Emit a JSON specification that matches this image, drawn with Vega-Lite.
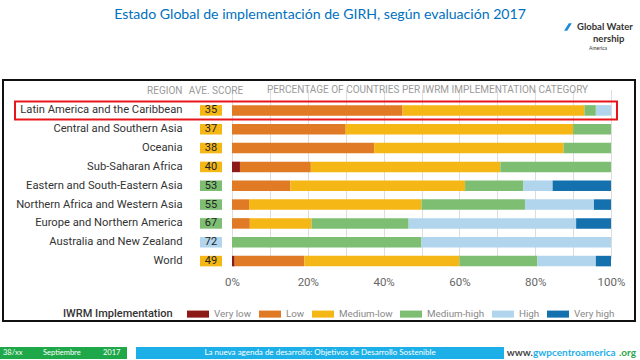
{
  "$schema": "https://vega.github.io/schema/vega-lite/v6.json",
  "width": 640,
  "height": 360,
  "autosize": {"type": "none"},
  "padding": 0,
  "background": "white",
  "config": {"view": {"stroke": null}, "font": "Roboto"},
  "datasets": {
    "shares": [
      {"region": "Latin America and the Caribbean", "level": "Low", "rank": 2, "pct": 45},
      {"region": "Latin America and the Caribbean", "level": "Medium-low", "rank": 3, "pct": 48},
      {"region": "Latin America and the Caribbean", "level": "Medium-high", "rank": 4, "pct": 3},
      {"region": "Latin America and the Caribbean", "level": "High", "rank": 5, "pct": 4},
      {"region": "Central and Southern Asia", "level": "Low", "rank": 2, "pct": 30},
      {"region": "Central and Southern Asia", "level": "Medium-low", "rank": 3, "pct": 60},
      {"region": "Central and Southern Asia", "level": "Medium-high", "rank": 4, "pct": 10},
      {"region": "Oceania", "level": "Low", "rank": 2, "pct": 37.5},
      {"region": "Oceania", "level": "Medium-low", "rank": 3, "pct": 50},
      {"region": "Oceania", "level": "Medium-high", "rank": 4, "pct": 12.5},
      {"region": "Sub-Saharan Africa", "level": "Very low", "rank": 1, "pct": 2.1},
      {"region": "Sub-Saharan Africa", "level": "Low", "rank": 2, "pct": 18.7},
      {"region": "Sub-Saharan Africa", "level": "Medium-low", "rank": 3, "pct": 50},
      {"region": "Sub-Saharan Africa", "level": "Medium-high", "rank": 4, "pct": 29.2},
      {"region": "Eastern and South-Eastern Asia", "level": "Low", "rank": 2, "pct": 15.4},
      {"region": "Eastern and South-Eastern Asia", "level": "Medium-low", "rank": 3, "pct": 46.1},
      {"region": "Eastern and South-Eastern Asia", "level": "Medium-high", "rank": 4, "pct": 15.4},
      {"region": "Eastern and South-Eastern Asia", "level": "High", "rank": 5, "pct": 7.7},
      {"region": "Eastern and South-Eastern Asia", "level": "Very high", "rank": 6, "pct": 15.4},
      {"region": "Northern Africa and Western Asia", "level": "Low", "rank": 2, "pct": 4.5},
      {"region": "Northern Africa and Western Asia", "level": "Medium-low", "rank": 3, "pct": 45.5},
      {"region": "Northern Africa and Western Asia", "level": "Medium-high", "rank": 4, "pct": 27.3},
      {"region": "Northern Africa and Western Asia", "level": "High", "rank": 5, "pct": 18.2},
      {"region": "Northern Africa and Western Asia", "level": "Very high", "rank": 6, "pct": 4.5},
      {"region": "Europe and Northern America", "level": "Low", "rank": 2, "pct": 4.7},
      {"region": "Europe and Northern America", "level": "Medium-low", "rank": 3, "pct": 16.3},
      {"region": "Europe and Northern America", "level": "Medium-high", "rank": 4, "pct": 25.6},
      {"region": "Europe and Northern America", "level": "High", "rank": 5, "pct": 44.2},
      {"region": "Europe and Northern America", "level": "Very high", "rank": 6, "pct": 9.2},
      {"region": "Australia and New Zealand", "level": "Medium-high", "rank": 4, "pct": 50},
      {"region": "Australia and New Zealand", "level": "High", "rank": 5, "pct": 50},
      {"region": "World", "level": "Very low", "rank": 1, "pct": 0.7},
      {"region": "World", "level": "Low", "rank": 2, "pct": 18.4},
      {"region": "World", "level": "Medium-low", "rank": 3, "pct": 40.9},
      {"region": "World", "level": "Medium-high", "rank": 4, "pct": 20.6},
      {"region": "World", "level": "High", "rank": 5, "pct": 15.4},
      {"region": "World", "level": "Very high", "rank": 6, "pct": 4.0}
    ],
    "scores": [
      {"region": "Latin America and the Caribbean", "score": 35, "level": "Medium-low"},
      {"region": "Central and Southern Asia", "score": 37, "level": "Medium-low"},
      {"region": "Oceania", "score": 38, "level": "Medium-low"},
      {"region": "Sub-Saharan Africa", "score": 40, "level": "Medium-low"},
      {"region": "Eastern and South-Eastern Asia", "score": 53, "level": "Medium-high"},
      {"region": "Northern Africa and Western Asia", "score": 55, "level": "Medium-high"},
      {"region": "Europe and Northern America", "score": 67, "level": "Medium-high"},
      {"region": "Australia and New Zealand", "score": 72, "level": "High"},
      {"region": "World", "score": 49, "level": "Medium-low"}
    ]
  },
  "resolve": {"scale": {"x": "independent", "y": "independent"}, "axis": {"x": "independent", "y": "independent"}},
  "layer": [
    {
      "data": {"values": [{}]},
      "layer": [
        {
          "mark": {"type": "rect", "filled": false, "stroke": "#111111", "strokeWidth": 2},
          "encoding": {
            "x": {"datum": 3, "type": "quantitative", "scale": {"domain": [0, 640], "range": [0, 640]}, "axis": null},
            "x2": {"datum": 635},
            "y": {"datum": 80, "type": "quantitative", "scale": {"domain": [0, 360], "range": [0, 360]}, "axis": null},
            "y2": {"datum": 321}
          }
        },
        {
          "mark": {"type": "rect", "filled": false, "stroke": "#E8161B", "strokeWidth": 2},
          "encoding": {
            "x": {"datum": 15, "type": "quantitative", "scale": {"domain": [0, 640], "range": [0, 640]}, "axis": null},
            "x2": {"datum": 617},
            "y": {"datum": 101.5, "type": "quantitative", "scale": {"domain": [0, 360], "range": [0, 360]}, "axis": null},
            "y2": {"datum": 119.5}
          }
        },
        {
          "mark": {"type": "text", "text": "Estado Global de implementación de GIRH, según evaluación 2017", "font": "Lato", "fontSize": 14.1, "color": "#0070C0", "align": "center", "baseline": "alphabetic"},
          "encoding": {
            "x": {"datum": 320, "type": "quantitative", "scale": {"domain": [0, 640], "range": [0, 640]}, "axis": null},
            "y": {"datum": 18.5, "type": "quantitative", "scale": {"domain": [0, 360], "range": [0, 360]}, "axis": null}
          }
        },
        {
          "mark": {"type": "text", "text": "IWRM Implementation", "fontSize": 11, "fontWeight": 500, "color": "#333333", "align": "left", "baseline": "middle"},
          "encoding": {
            "x": {"datum": 63, "type": "quantitative", "scale": {"domain": [0, 640], "range": [0, 640]}, "axis": null},
            "y": {"datum": 314, "type": "quantitative", "scale": {"domain": [0, 360], "range": [0, 360]}, "axis": null}
          }
        },
        {
          "mark": {"type": "rect", "fill": "#1FA84A"},
          "encoding": {
            "x": {"datum": 0, "type": "quantitative", "scale": {"domain": [0, 640], "range": [0, 640]}, "axis": null},
            "x2": {"datum": 127},
            "y": {"datum": 347, "type": "quantitative", "scale": {"domain": [0, 360], "range": [0, 360]}, "axis": null},
            "y2": {"datum": 359}
          }
        },
        {
          "mark": {"type": "rect", "fill": "#1DB0E8"},
          "encoding": {
            "x": {"datum": 136, "type": "quantitative", "scale": {"domain": [0, 640], "range": [0, 640]}, "axis": null},
            "x2": {"datum": 504},
            "y": {"datum": 347, "type": "quantitative", "scale": {"domain": [0, 360], "range": [0, 360]}, "axis": null},
            "y2": {"datum": 359}
          }
        },
        {
          "mark": {"type": "text", "text": "38/xx", "font": "Lato", "fontSize": 7.5, "color": "white", "align": "left", "baseline": "middle"},
          "encoding": {
            "x": {"datum": 3, "type": "quantitative", "scale": {"domain": [0, 640], "range": [0, 640]}, "axis": null},
            "y": {"datum": 353, "type": "quantitative", "scale": {"domain": [0, 360], "range": [0, 360]}, "axis": null}
          }
        },
        {
          "mark": {"type": "text", "text": "Septiembre", "font": "Lato", "fontSize": 7.5, "color": "white", "align": "left", "baseline": "middle"},
          "encoding": {
            "x": {"datum": 43, "type": "quantitative", "scale": {"domain": [0, 640], "range": [0, 640]}, "axis": null},
            "y": {"datum": 353, "type": "quantitative", "scale": {"domain": [0, 360], "range": [0, 360]}, "axis": null}
          }
        },
        {
          "mark": {"type": "text", "text": "2017", "font": "Lato", "fontSize": 7.5, "color": "white", "align": "left", "baseline": "middle"},
          "encoding": {
            "x": {"datum": 103, "type": "quantitative", "scale": {"domain": [0, 640], "range": [0, 640]}, "axis": null},
            "y": {"datum": 353, "type": "quantitative", "scale": {"domain": [0, 360], "range": [0, 360]}, "axis": null}
          }
        },
        {
          "mark": {"type": "text", "text": "La nueva agenda de desarrollo: Objetivos de Desarrollo Sostenible", "font": "Lato", "fontSize": 8, "color": "white", "align": "center", "baseline": "middle"},
          "encoding": {
            "x": {"datum": 320, "type": "quantitative", "scale": {"domain": [0, 640], "range": [0, 640]}, "axis": null},
            "y": {"datum": 353, "type": "quantitative", "scale": {"domain": [0, 360], "range": [0, 360]}, "axis": null}
          }
        },
        {
          "mark": {"type": "text", "text": "www.", "font": "Lato", "fontSize": 10, "fontWeight": "bold", "color": "#444444", "align": "right", "baseline": "middle"},
          "encoding": {
            "x": {"datum": 533, "type": "quantitative", "scale": {"domain": [0, 640], "range": [0, 640]}, "axis": null},
            "y": {"datum": 353, "type": "quantitative", "scale": {"domain": [0, 360], "range": [0, 360]}, "axis": null}
          }
        },
        {
          "mark": {"type": "text", "text": "gwpcentroamerica", "font": "Lato", "fontSize": 10, "fontWeight": "bold", "color": "#1DB0E8", "align": "left", "baseline": "middle"},
          "encoding": {
            "x": {"datum": 533, "type": "quantitative", "scale": {"domain": [0, 640], "range": [0, 640]}, "axis": null},
            "y": {"datum": 353, "type": "quantitative", "scale": {"domain": [0, 360], "range": [0, 360]}, "axis": null}
          }
        },
        {
          "mark": {"type": "text", "text": ".org", "font": "Lato", "fontSize": 10, "fontWeight": "bold", "color": "#2BA84A", "align": "right", "baseline": "middle"},
          "encoding": {
            "x": {"datum": 636, "type": "quantitative", "scale": {"domain": [0, 640], "range": [0, 640]}, "axis": null},
            "y": {"datum": 353, "type": "quantitative", "scale": {"domain": [0, 360], "range": [0, 360]}, "axis": null}
          }
        },
        {
          "mark": {"type": "text", "text": "Global Water", "font": "Lato", "fontSize": 9.5, "fontWeight": "bold", "color": "#333333", "align": "left", "baseline": "middle"},
          "encoding": {
            "x": {"datum": 577, "type": "quantitative", "scale": {"domain": [0, 640], "range": [0, 640]}, "axis": null},
            "y": {"datum": 27, "type": "quantitative", "scale": {"domain": [0, 360], "range": [0, 360]}, "axis": null}
          }
        },
        {
          "mark": {"type": "text", "text": "nership", "font": "Lato", "fontSize": 9.5, "fontWeight": "bold", "color": "#333333", "align": "left", "baseline": "middle"},
          "encoding": {
            "x": {"datum": 593, "type": "quantitative", "scale": {"domain": [0, 640], "range": [0, 640]}, "axis": null},
            "y": {"datum": 39, "type": "quantitative", "scale": {"domain": [0, 360], "range": [0, 360]}, "axis": null}
          }
        },
        {
          "mark": {"type": "text", "text": "America", "font": "Lato", "fontSize": 5, "color": "#333333", "align": "left", "baseline": "middle"},
          "encoding": {
            "x": {"datum": 589, "type": "quantitative", "scale": {"domain": [0, 640], "range": [0, 640]}, "axis": null},
            "y": {"datum": 48, "type": "quantitative", "scale": {"domain": [0, 360], "range": [0, 360]}, "axis": null}
          }
        },
        {
          "mark": {"type": "point", "shape": "M0.2,-1L1,-1L-0.2,1L-1,1Z", "filled": true, "color": "#1C8CD9", "size": 60, "opacity": 1},
          "encoding": {
            "x": {"datum": 568, "type": "quantitative", "scale": {"domain": [0, 640], "range": [0, 640]}, "axis": null},
            "y": {"datum": 27, "type": "quantitative", "scale": {"domain": [0, 360], "range": [0, 360]}, "axis": null}
          }
        }
      ]
    },
    {
      "data": {"name": "shares"},
      "mark": {"type": "bar"},
      "encoding": {
        "y": {
          "field": "region", "type": "nominal",
          "sort": ["Latin America and the Caribbean", "Central and Southern Asia", "Oceania", "Sub-Saharan Africa", "Eastern and South-Eastern Asia", "Northern Africa and Western Asia", "Europe and Northern America", "Australia and New Zealand", "World"],
          "scale": {"domain": ["Latin America and the Caribbean", "Central and Southern Asia", "Oceania", "Sub-Saharan Africa", "Eastern and South-Eastern Asia", "Northern Africa and Western Asia", "Europe and Northern America", "Australia and New Zealand", "World"], "range": [101, 270.5], "paddingInner": 0.44, "paddingOuter": 0.22},
          "axis": {"orient": "left", "offset": -182, "domain": false, "ticks": false, "grid": false, "labelPadding": 0, "labelFontSize": 11.2, "labelColor": "#333333", "labelLimit": 400, "title": "REGION", "titleAngle": 0, "titleAlign": "right", "titleBaseline": "middle", "titleX": 0, "titleY": 90, "titleColor": "#9a9a9a", "titleFontSize": 10, "titleFontWeight": "normal"}
        },
        "x": {
          "field": "pct", "type": "quantitative", "stack": "zero",
          "scale": {"domain": [0, 100], "range": [232, 611], "nice": false},
          "axis": {"orient": "bottom", "offset": -77.7, "values": [0, 10, 20, 30, 40, 50, 60, 70, 80, 90, 100], "labelExpr": "datum.value % 20 === 0 ? datum.value + '%' : ''", "domain": false, "ticks": false, "labelPadding": 0, "labelBaseline": "middle", "labelFontSize": 11.5, "labelColor": "#666666", "labelFlush": false, "labelOverlap": false, "grid": true, "gridColor": "#dddddd", "gridWidth": 1, "title": "PERCENTAGE OF COUNTRIES PER IWRM IMPLEMENTATION CATEGORY", "titleX": 427, "titleY": -192.3, "titleAlign": "center", "titleBaseline": "middle", "titleColor": "#9a9a9a", "titleFontSize": 10, "titleFontWeight": "normal"}
        },
        "order": {"field": "rank", "type": "quantitative", "sort": "ascending"},
        "color": {
          "field": "level", "type": "nominal",
          "scale": {"domain": ["Very low", "Low", "Medium-low", "Medium-high", "High", "Very high"], "range": ["#8C1B17", "#E07A24", "#F5B716", "#7DBE72", "#B1D5EC", "#1471AE"]},
          "legend": {"orient": "none", "legendX": 187, "legendY": 303, "direction": "horizontal", "title": null, "symbolType": "M-1,-0.32H1V0.32H-1Z", "symbolSize": 484, "symbolStrokeWidth": 0, "symbolOpacity": 1, "labelFontSize": 9.8, "labelColor": "#888888", "labelOffset": 5, "columnPadding": 7}
        }
      }
    },
    {
      "data": {"name": "scores"},
      "mark": {"type": "rect"},
      "encoding": {
        "y": {
          "field": "region", "type": "nominal",
          "sort": ["Latin America and the Caribbean", "Central and Southern Asia", "Oceania", "Sub-Saharan Africa", "Eastern and South-Eastern Asia", "Northern Africa and Western Asia", "Europe and Northern America", "Australia and New Zealand", "World"],
          "scale": {"domain": ["Latin America and the Caribbean", "Central and Southern Asia", "Oceania", "Sub-Saharan Africa", "Eastern and South-Eastern Asia", "Northern Africa and Western Asia", "Europe and Northern America", "Australia and New Zealand", "World"], "range": [101, 270.5], "paddingInner": 0.44, "paddingOuter": 0.22},
          "axis": null
        },
        "x": {
          "datum": "AVE. SCORE", "type": "nominal",
          "scale": {"domain": ["AVE. SCORE"], "range": [200, 222], "paddingInner": 0, "paddingOuter": 0},
          "axis": {"orient": "top", "offset": -90, "domain": false, "ticks": false, "grid": false, "labelPadding": 0, "labelBaseline": "middle", "labelAngle": 0, "labelOffset": 5, "labelFontSize": 10, "labelColor": "#9a9a9a", "title": null}
        },
        "color": {"field": "level", "type": "nominal", "legend": null}
      }
    },
    {
      "data": {"name": "scores"},
      "mark": {"type": "text", "fontSize": 11, "color": "#222222", "baseline": "middle", "align": "center"},
      "encoding": {
        "y": {
          "field": "region", "type": "nominal",
          "sort": ["Latin America and the Caribbean", "Central and Southern Asia", "Oceania", "Sub-Saharan Africa", "Eastern and South-Eastern Asia", "Northern Africa and Western Asia", "Europe and Northern America", "Australia and New Zealand", "World"],
          "scale": {"domain": ["Latin America and the Caribbean", "Central and Southern Asia", "Oceania", "Sub-Saharan Africa", "Eastern and South-Eastern Asia", "Northern Africa and Western Asia", "Europe and Northern America", "Australia and New Zealand", "World"], "range": [101, 270.5], "paddingInner": 0.44, "paddingOuter": 0.22},
          "axis": null
        },
        "x": {
          "datum": "AVE. SCORE", "type": "nominal",
          "scale": {"domain": ["AVE. SCORE"], "range": [200, 222], "paddingInner": 0, "paddingOuter": 0},
          "axis": null
        },
        "text": {"field": "score", "type": "quantitative"}
      }
    }
  ]
}
